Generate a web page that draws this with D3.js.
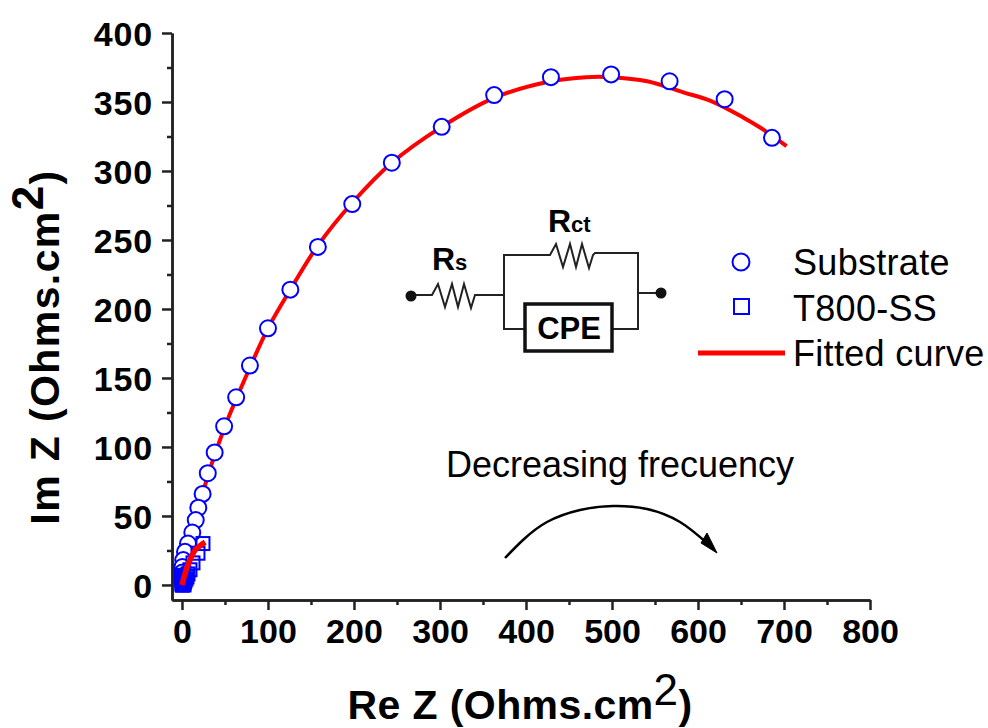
<!DOCTYPE html>
<html>
<head>
<meta charset="utf-8">
<script src="https://cdn.jsdelivr.net/npm/d3@7"></script>
<style>
  html, body { margin: 0; padding: 0; background: #fff; }
  text { font-family: "Liberation Sans", Arial, sans-serif; fill: #000; }
</style>
</head>
<body>
<div id="my_dataviz"></div>
<script>
// values
const substrateRe = [686, 631, 567, 499, 429, 363, 302, 244, 198, 158, 126, 100, 79, 63, 49, 38, 30, 24, 19, 16, 12, 7, 3.5, 1.5, 0.5, 0.5, 0.5, 0.5];
const substrateIm = [324, 352, 365, 370, 368, 355, 332, 306, 276, 245, 214, 186, 159, 136, 115, 96, 81, 66, 56, 47, 38, 30, 24, 18, 13, 9, 5, 2];

const t800Re = [24.4, 18.6, 12.8, 9.3, 7, 5.8, 4.6, 3.5, 2.8, 2.3, 1.8, 1.2, 0.8, 0.5, 0.2, 0, 0, 0, 0.3, 0.8, 1.2, 1.8, 2.4];
const t800Im = [30, 23, 16, 11, 8, 5.8, 4.3, 3, 2.2, 1.5, 1, 0.7, 0.3, 0, 0, 1, 3, 5, 7, 6, 4, 2, 0];

const fitSubRe = [0, 10, 20, 30, 50, 80, 100, 126, 158, 198, 244, 302, 363, 429, 470, 499, 541, 583, 614, 652, 676, 703];
const fitSubIm = [0, 31, 56, 79, 115, 159, 186, 214, 246, 277, 306, 332, 353, 365, 368, 368, 365, 357, 351, 339, 330, 318];

const fitT800Re = [0, 3, 6, 10, 15, 20, 27];
const fitT800Im = [0, 7, 13, 19, 25, 28, 31];

const xTicks = [0, 100, 200, 300, 400, 500, 600, 700, 800];
const yTicks = [0, 50, 100, 150, 200, 250, 300, 350, 400];
const legendLabels = ["Substrate", "T800-SS", "Fitted curve"];

const width = 988, height = 728;
const margin = { top: 33, left: 172 };

const svg = d3.select("#my_dataviz")
  .append("svg")
  .attr("width", width)
  .attr("height", height)
  .style("display", "block");

const x = d3.scaleLinear().domain([-11.6, 800]).range([margin.left, 870]);
const y = d3.scaleLinear().domain([-10.9, 400]).range([600, margin.top]);

function drawAxis(axis, transform) {
  const g = svg.append("g").attr("transform", transform).call(axis);
  g.selectAll("path.domain").attr("stroke", "#222").attr("stroke-width", 2.5);
  g.selectAll("line").attr("stroke", "#222").attr("stroke-width", 2.5);
  return g;
}

// minor ticks first, then the labelled ones
const xMinor = d3.range(50, 800, 100);
const yMinor = d3.range(25, 400, 50);
drawAxis(d3.axisBottom(x).tickValues(xMinor).tickSize(5).tickFormat("").tickSizeOuter(0), "translate(0,600)");
drawAxis(d3.axisLeft(y).tickValues(yMinor).tickSize(5).tickFormat("").tickSizeOuter(0), `translate(${margin.left},0)`);

const gx = drawAxis(d3.axisBottom(x).tickValues(xTicks).tickSize(10).tickSizeOuter(0), "translate(0,600)");
gx.selectAll("text").attr("font-size", 34).attr("font-weight", "bold")
  .attr("font-family", "Liberation Sans").attr("y", 19).attr("dy", "0.71em");

const gy = drawAxis(d3.axisLeft(y).tickValues(yTicks).tickSize(10).tickSizeOuter(0), `translate(${margin.left},0)`);
gy.selectAll("text").attr("font-size", 34).attr("font-weight", "bold")
  .attr("font-family", "Liberation Sans").attr("x", -19).attr("dy", "0.36em")
  .attr("letter-spacing", 0.8);

// axis titles
const xTitle = svg.append("text")
  .attr("x", 520).attr("y", 719)
  .attr("text-anchor", "middle")
  .attr("font-size", 41).attr("font-weight", "bold")
  .attr("letter-spacing", 0.4);
xTitle.append("tspan").text("Re Z (Ohms.cm");
xTitle.append("tspan").attr("font-size", 44).attr("font-weight", "normal").attr("dy", -14).text("2");
xTitle.append("tspan").attr("dy", 14).text(")");

const yTitle = svg.append("text")
  .attr("transform", "translate(59,347) rotate(-90)")
  .attr("text-anchor", "middle")
  .attr("font-size", 41).attr("font-weight", "bold")
  .attr("letter-spacing", 1.4);
yTitle.append("tspan").text("Im Z (Ohms.cm");
yTitle.append("tspan").attr("font-size", 44).attr("dy", -16).text("2");
yTitle.append("tspan").attr("dy", 16).text(")");

const line = d3.line().x(d => x(d[0])).y(d => y(d[1])).curve(d3.curveCatmullRom);
const blue = "#0000ff", red = "#ff0000";

// fitted curve of the substrate lies under its markers
svg.append("path").datum(d3.zip(fitSubRe, fitSubIm))
  .attr("d", line).attr("fill", "none").attr("stroke", red).attr("stroke-width", 4);

// Substrate
svg.append("g").selectAll("circle")
  .data(d3.zip(substrateRe, substrateIm))
  .join("circle")
  .attr("cx", d => x(d[0])).attr("cy", d => y(d[1]))
  .attr("r", 8)
  .attr("fill", "#fff").attr("stroke", blue).attr("stroke-width", 2);

// T800-SS
svg.append("g").selectAll("rect")
  .data(d3.zip(t800Re, t800Im))
  .join("rect")
  .attr("x", d => x(d[0]) - 6.5).attr("y", d => y(d[1]) - 6.5)
  .attr("width", 13).attr("height", 13)
  .attr("fill", "none").attr("stroke", blue).attr("stroke-width", 2);

svg.append("path").datum(d3.zip(fitT800Re, fitT800Im))
  .attr("d", line).attr("fill", "none").attr("stroke", red).attr("stroke-width", 5.5);

// legend
const legendBase = [275, 321, 366];
svg.append("circle").attr("cx", 741).attr("cy", 262).attr("r", 8.5)
  .attr("fill", "#fff").attr("stroke", blue).attr("stroke-width", 2);
svg.append("rect").attr("x", 734).attr("y", 299).attr("width", 15).attr("height", 15)
  .attr("fill", "none").attr("stroke", blue).attr("stroke-width", 2);
svg.append("line").attr("x1", 698).attr("x2", 785).attr("y1", 353).attr("y2", 353)
  .attr("stroke", red).attr("stroke-width", 5);
svg.append("g").selectAll("text")
  .data(legendLabels)
  .join("text")
  .attr("x", 793).attr("y", (d, i) => legendBase[i])
  .attr("font-size", 36)
  .attr("letter-spacing", 0.3)
  .text(d => d);

// equivalent circuit inset
const ink = "#222";
const circuit = svg.append("g").attr("fill", "none").attr("stroke", ink).attr("stroke-width", 2);
const zigzag = "l6,-11 l7,23 l7,-23 l6,23 l6,-23 l7,24 l4,-13";
circuit.append("path").attr("d", `M411,295 H432 ${zigzag} H504`);
circuit.append("path").attr("d", `M525,329 H504 V255 H550 ${zigzag} L595,253 H638 V329 H612 M638,293 H661`);
circuit.append("rect").attr("x", 525).attr("y", 304).attr("width", 87).attr("height", 47)
  .attr("fill", "#fff").attr("stroke", "#111").attr("stroke-width", 3.5);
svg.append("circle").attr("cx", 411).attr("cy", 296).attr("r", 5.5).attr("fill", "#111");
svg.append("circle").attr("cx", 661).attr("cy", 293).attr("r", 5.5).attr("fill", "#111");

svg.append("text").attr("x", 569).attr("y", 339).attr("text-anchor", "middle")
  .attr("font-size", 31).attr("font-weight", "bold").text("CPE");
const rs = svg.append("text").attr("x", 432).attr("y", 270).attr("font-size", 32).attr("font-weight", "bold");
rs.append("tspan").text("R");
rs.append("tspan").attr("font-size", 22).text("s");
const rct = svg.append("text").attr("x", 548).attr("y", 232).attr("font-size", 32).attr("font-weight", "bold");
rct.append("tspan").text("R");
rct.append("tspan").attr("font-size", 22).text("ct");

// annotation
svg.append("text").attr("x", 620).attr("y", 477).attr("text-anchor", "middle")
  .attr("font-size", 36).text("Decreasing frecuency");
const arrowPts = [[505, 558], [523, 540], [547, 522], [580, 510], [613, 506], [647, 509], [680, 522], [708, 544]];
svg.append("path").attr("d", d3.line().curve(d3.curveNatural)(arrowPts))
  .attr("fill", "none").attr("stroke", "#000").attr("stroke-width", 2.5);
svg.append("path").attr("d", "M707,533 L717,553 L701,543 Z").attr("fill", "#000").attr("stroke", "#000");
</script>
</body>
</html>
